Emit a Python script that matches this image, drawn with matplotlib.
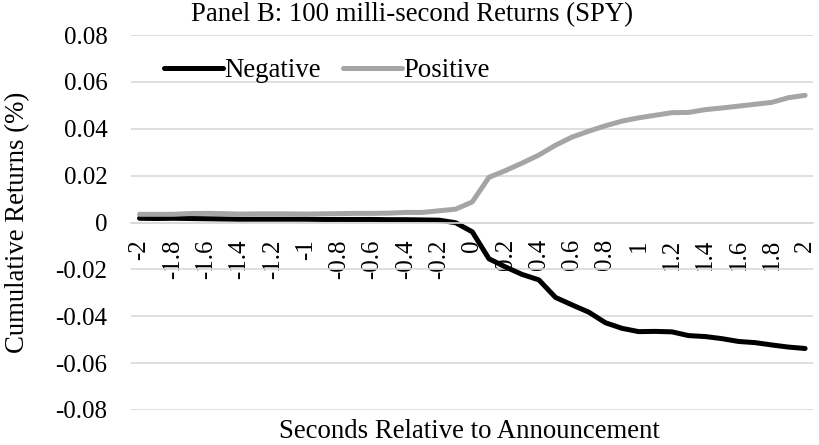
import matplotlib
matplotlib.use('Agg')
import matplotlib.pyplot as plt
import numpy as np

plt.rcParams['font.family'] = ['Liberation Serif', 'DejaVu Serif']

# seconds relative to the announcement (category axis)
seconds = [-2.0, -1.9, -1.8, -1.7, -1.6, -1.5, -1.4, -1.3, -1.2, -1.1,
           -1.0, -0.9, -0.8, -0.7, -0.6, -0.5, -0.4, -0.3, -0.2, -0.1,
           0.0, 0.1, 0.2, 0.3, 0.4, 0.5, 0.6, 0.7, 0.8, 0.9,
           1.0, 1.1, 1.2, 1.3, 1.4, 1.5, 1.6, 1.7, 1.8, 1.9, 2.0]

negative = [0.0018, 0.0017, 0.0018, 0.0017, 0.0016, 0.0015, 0.0014, 0.0014, 0.0014, 0.0014,
            0.0014, 0.0013, 0.0013, 0.0013, 0.0013, 0.0012, 0.0012, 0.0011, 0.0010, -0.0001,
            -0.0040, -0.0155, -0.0190, -0.0222, -0.0245, -0.0320, -0.0352, -0.0383, -0.0428, -0.0452,
            -0.0466, -0.0465, -0.0467, -0.0483, -0.0487, -0.0496, -0.0508, -0.0513, -0.0523, -0.0532,
            -0.0538]

positive = [0.0035, 0.0035, 0.0035, 0.0038, 0.0039, 0.0038, 0.0036, 0.0037, 0.0037, 0.0037,
            0.0036, 0.0037, 0.0038, 0.0039, 0.0039, 0.0040, 0.0043, 0.0043, 0.0050, 0.0057,
            0.0088, 0.0193, 0.0222, 0.0254, 0.0288, 0.0330, 0.0365, 0.0390, 0.0413, 0.0433,
            0.0447, 0.0458, 0.0469, 0.0470, 0.0482, 0.0489, 0.0497, 0.0505, 0.0513, 0.0533,
            0.0543]

y_ticks = [-0.08, -0.06, -0.04, -0.02, 0, 0.02, 0.04, 0.06, 0.08]

fs_tick = 18
fs_text = 19.3

fig = plt.figure(figsize=(8.2, 4.45), dpi=100)
ax = fig.add_axes([0.16, 0.079, 0.832, 0.842])

pos = np.arange(len(seconds))
ax.plot(pos, negative, color='black', lw=3.6, label='Negative', solid_capstyle='round')
ax.plot(pos, positive, color='#a5a5a5', lw=3.6, label='Positive', solid_capstyle='round')

ax.set_xlim(-0.5, len(seconds) - 0.5)
ax.set_ylim(-0.08, 0.08)

# gridlines
ax.set_yticks(y_ticks)
ax.set_yticklabels(['{:g}'.format(v) for v in y_ticks], fontsize=fs_tick)
ax.grid(axis='y', color='#d9d9d9', lw=1.2)
ax.set_axisbelow(True)

for s in ['top', 'right', 'left']:
    ax.spines[s].set_visible(False)
ax.spines['bottom'].set_position(('data', 0))
ax.spines['bottom'].set_color('#d9d9d9')
ax.spines['bottom'].set_linewidth(1.2)

ax.set_xticks(pos[::2])
ax.set_xticklabels(['{:g}'.format(s) for s in seconds[::2]], rotation=90,
                   fontsize=fs_tick, va='top', ha='center')
ax.tick_params(axis='x', length=0, pad=12)
ax.tick_params(axis='y', length=0, pad=17)

fig.text(0.502, 0.968, 'Panel B: 100 milli-second Returns (SPY)', fontsize=fs_text,
         ha='center', va='center')
fig.text(0.573, 0.03, 'Seconds Relative to Announcement', fontsize=fs_text,
         ha='center', va='center')
fig.text(0.022, 0.5, 'Cumulative Returns (%)', fontsize=fs_text, rotation=90,
         ha='center', va='center')

ax.legend(loc='upper left', bbox_to_anchor=(0.032, 0.967), ncol=2, frameon=False,
          fontsize=fs_text, handlelength=2.2, handletextpad=0.05, columnspacing=0.85,
          borderaxespad=0)

fig.savefig('out.png', dpi=100)
